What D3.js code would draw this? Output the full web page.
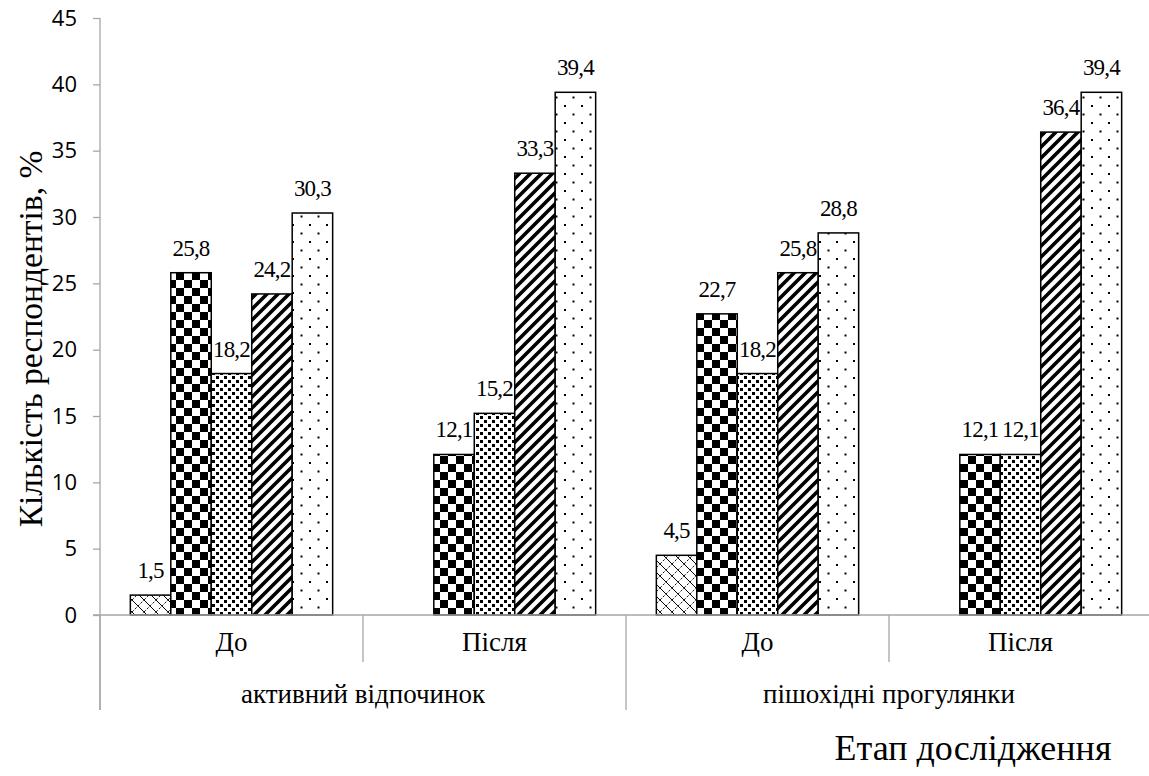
<!DOCTYPE html>
<html><head><meta charset="utf-8">
<script src="https://cdn.jsdelivr.net/npm/d3@7"></script>
<style>body{margin:0;background:#fff}svg{display:block}.serif{font-family:'Liberation Serif','Times New Roman',serif}</style>
</head><body>
<script>
const stages = ["До", "Після", "До", "Після"];
const groups = ["активний відпочинок", "пішохідні прогулянки"];
const seriesNames = ["s1", "s2", "s3", "s4", "s5"];
const s1 = [1.5, 0, 4.5, 0];
const s2 = [25.8, 12.1, 22.7, 12.1];
const s3 = [18.2, 15.2, 18.2, 12.1];
const s4 = [24.2, 33.3, 25.8, 36.4];
const s5 = [30.3, 39.4, 28.8, 39.4];
const yTicks = [0, 5, 10, 15, 20, 25, 30, 35, 40, 45];
const yTitle = "Кількість респондентів, %";
const xTitle = "Етап дослідження";
const seriesVals = [s1, s2, s3, s4, s5];

const W = 1149, H = 776;
const svg = d3.select("body").append("svg").attr("width", W).attr("height", H);
const defs = svg.append("defs");

// patterns
const p1 = defs.append("pattern").attr("id","pat0").attr("patternUnits","userSpaceOnUse").attr("width",12).attr("height",12);
p1.append("rect").attr("width",12).attr("height",12).attr("fill","#fff");
p1.append("path").attr("d","M0,0 L12,12").attr("stroke","#000").attr("stroke-width",1);
p1.append("path").attr("d","M0,12 L12,0").attr("stroke","#000").attr("stroke-width",0.9).attr("stroke-dasharray","2.5,1.5");

const p2 = defs.append("pattern").attr("id","pat1").attr("patternUnits","userSpaceOnUse").attr("width",16).attr("height",16);
p2.append("rect").attr("width",16).attr("height",16).attr("fill","#fff");
p2.append("rect").attr("x",0).attr("y",0).attr("width",8).attr("height",8).attr("fill","#000");
p2.append("rect").attr("x",8).attr("y",8).attr("width",8).attr("height",8).attr("fill","#000");

const p3 = defs.append("pattern").attr("id","pat2").attr("patternUnits","userSpaceOnUse").attr("width",8).attr("height",8);
p3.append("rect").attr("width",8).attr("height",8).attr("fill","#fff");
[[0,0],[4,4]].forEach(([x,y])=>p3.append("rect").attr("x",x).attr("y",y).attr("width",3).attr("height",3).attr("fill","#000"));

const p4 = defs.append("pattern").attr("id","pat3").attr("patternUnits","userSpaceOnUse").attr("width",11).attr("height",11);
p4.append("rect").attr("width",11).attr("height",11).attr("fill","#fff");
p4.append("path").attr("d","M-3,14 L14,-3 M-8.5,8.5 L8.5,-8.5 M2.5,19.5 L19.5,2.5").attr("stroke","#000").attr("stroke-width",3.6);

const p5 = defs.append("pattern").attr("id","pat4").attr("patternUnits","userSpaceOnUse").attr("width",17).attr("height",17);
p5.append("rect").attr("width",17).attr("height",17).attr("fill","#fff");
p5.append("rect").attr("x",3).attr("y",3).attr("width",2).attr("height",2).attr("fill","#000");
p5.append("rect").attr("x",11.5).attr("y",11.5).attr("width",2).attr("height",2).attr("fill","#000");

const x0 = d3.scaleBand().domain(d3.range(stages.length)).range([100, 1152]).paddingInner(0).paddingOuter(0);
const x1 = d3.scaleBand().domain(d3.range(seriesNames.length)).range([0, x0.bandwidth()]).paddingInner(0).paddingOuter(0.75);
const y = d3.scaleLinear().domain([0, 45]).range([615, 18]);

const axisColor = "#a6a6a6";

// y axis
const yAxis = svg.append("g").attr("transform","translate(100,0)")
  .call(d3.axisLeft(y).tickValues(yTicks).tickSize(7).tickPadding(16));
yAxis.select(".domain").remove();
yAxis.selectAll(".tick line").attr("stroke",axisColor).attr("stroke-width",1.3);
yAxis.selectAll(".tick text").attr("font-family","'Open Sans', sans-serif").attr("font-size",22).attr("fill","#000");
svg.append("line").attr("x1",100).attr("x2",100).attr("y1",18).attr("y2",710).attr("stroke",axisColor).attr("stroke-width",1.3);

// bars
const bars = [];
stages.forEach((st,i)=>seriesVals.forEach((arr,j)=>bars.push({i,j,v:arr[i]})));
svg.append("g").selectAll("rect").data(bars.filter(d=>d.v>0)).join("rect")
  .attr("x",d=>x0(d.i)+x1(d.j))
  .attr("y",d=>y(d.v))
  .attr("width",x1.bandwidth())
  .attr("height",d=>y(0)-y(d.v))
  .attr("fill",d=>`url(#pat${d.j})`)
  .attr("stroke","#000").attr("stroke-width",1.5);

// x axis line
svg.append("line").attr("x1",93).attr("x2",1152).attr("y1",y(0)).attr("y2",y(0)).attr("stroke",axisColor).attr("stroke-width",1.5);

// category dividers
d3.range(stages.length+1).forEach(k=>{
  const xx = k<stages.length ? x0(k) : x0.range()[1];
  const long = k%2===0;
  svg.append("line").attr("x1",xx).attr("x2",xx).attr("y1",y(0)).attr("y2",long?710:662).attr("stroke",axisColor).attr("stroke-width",1.3);
});

// data labels
svg.append("g").selectAll("text").data(bars.filter(d=>d.v>0)).join("text")
  .attr("class","serif")
  .attr("x",d=>x0(d.i)+x1(d.j)+x1.bandwidth()/2)
  .attr("y",d=>y(d.v)-17)
  .attr("text-anchor","middle")
  .attr("font-size",23).attr("letter-spacing",-0.8)
  .text(d=>String(d.v.toFixed(1)).replace(".",","));

// stage labels
svg.append("g").selectAll("text").data(stages).join("text")
  .attr("class","serif")
  .attr("x",(d,i)=>x0(i)+x0.bandwidth()/2).attr("y",651)
  .attr("text-anchor","middle")
  .attr("font-size",27)
  .text(d=>d);

// group labels
svg.append("g").selectAll("text").data(groups).join("text")
  .attr("class","serif")
  .attr("x",(d,i)=>x0(i*2)+x0.bandwidth())
  .attr("y",703)
  .attr("text-anchor","middle")
  .attr("font-size",27)
  .text(d=>d);

// titles
svg.append("text").attr("class","serif").attr("transform","translate(42,339) rotate(-90)")
  .attr("text-anchor","middle").attr("font-size",33.5)
  .text(yTitle);
svg.append("text").attr("class","serif").attr("x",973).attr("y",760).attr("text-anchor","middle")
  .attr("font-size",36)
  .text(xTitle);
</script>
</body></html>
